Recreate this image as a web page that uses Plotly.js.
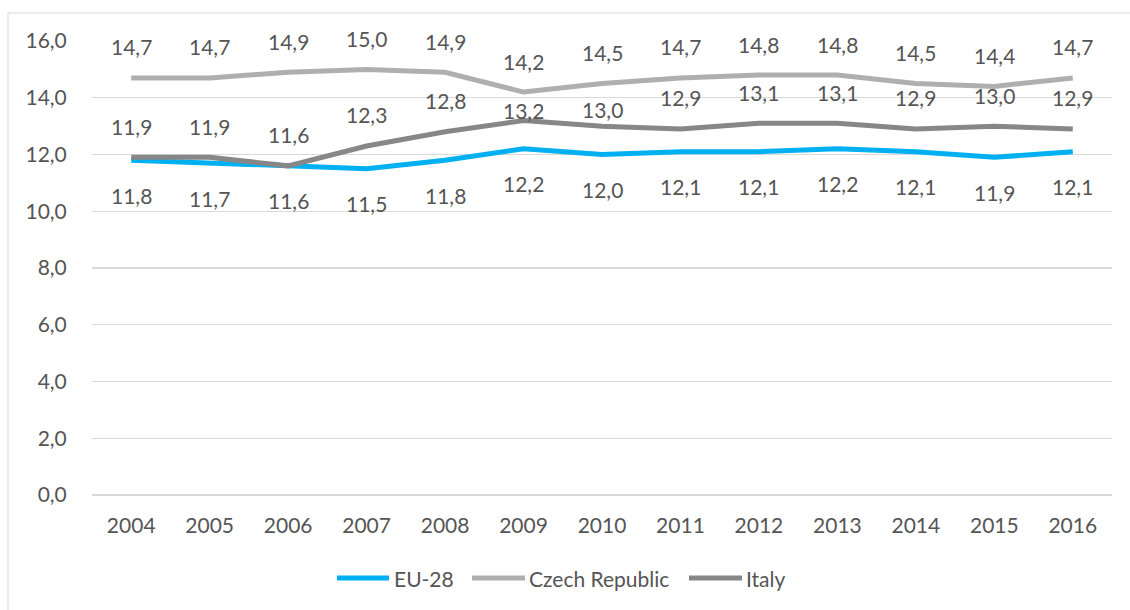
<!DOCTYPE html>
<html>
<head>
<meta charset="utf-8">
<script src="https://cdn.plot.ly/plotly-3.0.1.min.js"></script>
<style>
  html, body { margin: 0; padding: 0; background: #fff; }
  #chart { width: 1130px; height: 610px; }
</style>
</head>
<body>
<div id="chart"></div>
<script>
const years = ["2004","2005","2006","2007","2008","2009","2010","2011","2012","2013","2014","2015","2016"];
const eu28 = [11.8, 11.7, 11.6, 11.5, 11.8, 12.2, 12.0, 12.1, 12.1, 12.2, 12.1, 11.9, 12.1];
const czech = [14.7, 14.7, 14.9, 15.0, 14.9, 14.2, 14.5, 14.7, 14.8, 14.8, 14.5, 14.4, 14.7];
const italy = [11.9, 11.9, 11.6, 12.3, 12.8, 13.2, 13.0, 12.9, 13.1, 13.1, 12.9, 13.0, 12.9];
const seriesNames = ["EU-28", "Czech Republic", "Italy"];

const colors = { "EU-28": "#00B0F0", "Czech Republic": "#AFAFAF", "Italy": "#878787" };
const textColor = "#555555";
const fontFam = "Lato, 'Open Sans', sans-serif";
const fs = 21;

const series = [
  { name: seriesNames[0], y: eu28, shift: -35 },
  { name: seriesNames[1], y: czech, shift: 31 },
  { name: seriesNames[2], y: italy, shift: 31 }
];
// manual label nudges (as in original Excel chart)
const labelShiftOverride = { "Italy": { "2009": 10, "2010": 17 } };

const fmt = v => v.toFixed(1).replace('.', ',');

const traces = series.map(s => ({
  type: 'scatter',
  mode: 'lines',
  name: s.name,
  x: years,
  y: s.y,
  line: { color: colors[s.name], width: 5, shape: 'linear' },
  hoverinfo: 'x+y+name',
  showlegend: false
}));

const annotations = [];
series.forEach(s => {
  s.y.forEach((v, i) => {
    const ov = labelShiftOverride[s.name] && labelShiftOverride[s.name][years[i]];
    annotations.push({
      x: i, y: v, xref: 'x', yref: 'y',
      text: fmt(v), showarrow: false,
      yshift: ov !== undefined ? ov : s.shift,
      font: { family: fontFam, size: fs, color: textColor }
    });
  });
});

// custom legend (long line samples like the original)
const plotL = 92, plotW = 1020, plotB = 495, plotH = 454;
const px2x = p => (p - plotL) / plotW;
const py2y = p => (plotB - p) / plotH;
const legendItems = [
  { name: seriesNames[0], x0: 337, x1: 389, tx: 392 },
  { name: seriesNames[1], x0: 472, x1: 525, tx: 527 },
  { name: seriesNames[2], x0: 689, x1: 742, tx: 744 }
];
const legendY = 578;
const shapes = [{
  type: 'rect', xref: 'paper', yref: 'paper',
  x0: px2x(8), y0: -0.5, x1: 1.2, y1: py2y(13),
  line: { color: '#D9D9D9', width: 1 }, fillcolor: 'rgba(0,0,0,0)', layer: 'below'
}];
legendItems.forEach(it => {
  shapes.push({
    type: 'line', xref: 'paper', yref: 'paper',
    x0: px2x(it.x0), x1: px2x(it.x1), y0: py2y(legendY), y1: py2y(legendY),
    line: { color: colors[it.name], width: 5 }
  });
  annotations.push({
    xref: 'paper', yref: 'paper', x: px2x(it.tx), y: py2y(legendY),
    xanchor: 'left', yanchor: 'middle', showarrow: false,
    text: it.name, font: { family: fontFam, size: fs, color: textColor }
  });
});

const layout = {
  width: 1130, height: 610,
  margin: { l: 92, r: 18, t: 41, b: 115 },
  paper_bgcolor: '#ffffff', plot_bgcolor: '#ffffff',
  separators: ', ',
  font: { family: fontFam, size: fs, color: textColor },
  showlegend: false,
  xaxis: {
    type: 'category', range: [-0.5, 12.5],
    showgrid: false, zeroline: false, showline: false,
    ticks: 'outside', ticklen: 12, tickcolor: 'rgba(0,0,0,0)',
    tickfont: { family: fontFam, size: fs, color: textColor },
    fixedrange: true
  },
  yaxis: {
    range: [0, 16], dtick: 2, tick0: 0, tickformat: '.1f',
    showgrid: true, gridcolor: '#D9D9D9', gridwidth: 1.3,
    zeroline: true, zerolinecolor: '#D9D9D9', zerolinewidth: 1.3,
    showline: false,
    ticks: 'outside', ticklen: 20, tickcolor: 'rgba(0,0,0,0)',
    tickfont: { family: fontFam, size: fs, color: textColor },
    fixedrange: true
  },
  annotations: annotations,
  shapes: shapes
};

Plotly.newPlot('chart', traces, layout, { displayModeBar: false, staticPlot: true });
</script>
</body>
</html>
